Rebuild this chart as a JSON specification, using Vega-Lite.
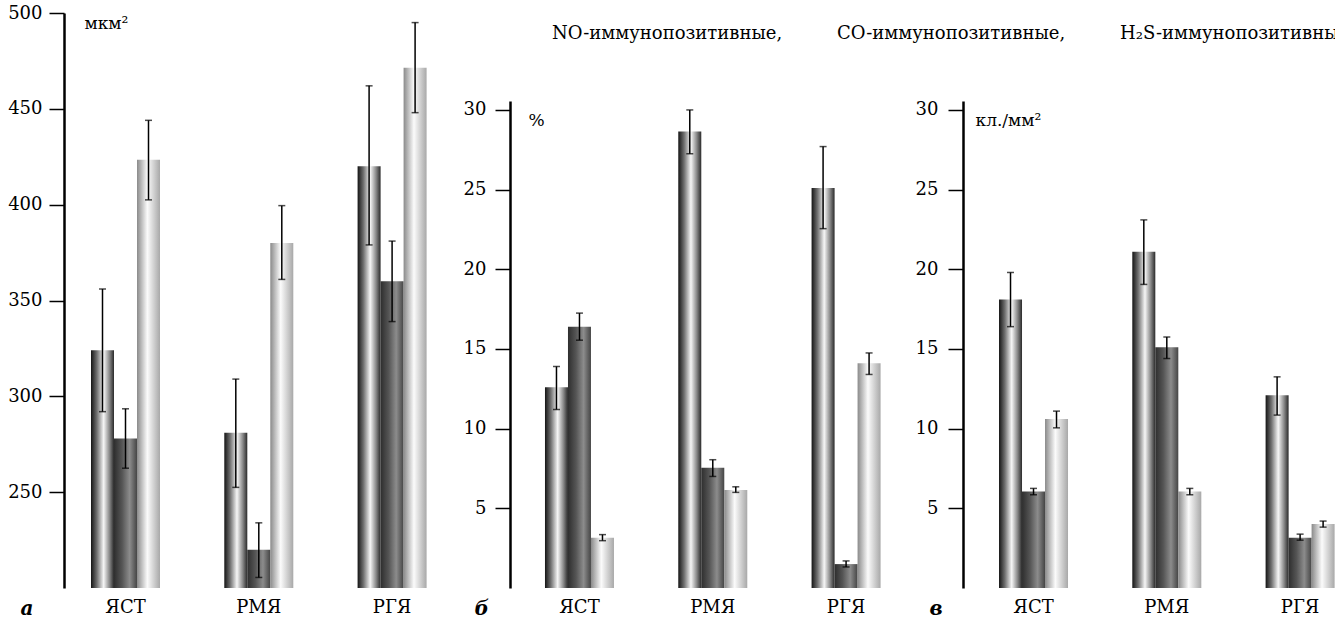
{
  "$schema": "https://vega.github.io/schema/vega-lite/v6.json",
  "padding": {"left": 7, "top": 4, "right": 0, "bottom": 0},
  "autosize": {"type": "pad"},
  "background": "white",
  "config": {
    "font": "DejaVu Serif",
    "view": {"stroke": null},
    "axis": {"labelFont": "DejaVu Serif", "labelFontSize": 18, "labelColor": "black", "titleFont": "DejaVu Serif", "titleColor": "black", "titleFontWeight": "normal", "grid": false},
    "legend": {"orient": "none", "legendX": 453, "legendY": 9, "direction": "horizontal", "symbolType": "square", "symbolSize": 560, "symbolStrokeWidth": 0, "symbolOpacity": 1, "labelFont": "DejaVu Serif", "labelFontSize": 18, "labelLimit": 400, "labelColor": "black", "labelOffset": 11, "columnPadding": 19, "padding": 0}
  },
  "datasets": {
    "a": [
      {"group": "ЯСТ", "series": "NO", "value": 324, "lo": 292, "hi": 356},
      {"group": "ЯСТ", "series": "CO", "value": 278, "lo": 262.5, "hi": 293.5},
      {"group": "ЯСТ", "series": "H2S", "value": 423.5, "lo": 402.5, "hi": 444},
      {"group": "РМЯ", "series": "NO", "value": 281, "lo": 252.5, "hi": 309},
      {"group": "РМЯ", "series": "CO", "value": 220, "lo": 205.5, "hi": 234},
      {"group": "РМЯ", "series": "H2S", "value": 380, "lo": 361, "hi": 399.5},
      {"group": "РГЯ", "series": "NO", "value": 420, "lo": 379, "hi": 462},
      {"group": "РГЯ", "series": "CO", "value": 360, "lo": 339, "hi": 381},
      {"group": "РГЯ", "series": "H2S", "value": 471.5, "lo": 448, "hi": 495}
    ],
    "b": [
      {"group": "ЯСТ", "series": "NO", "value": 12.6, "lo": 11.2, "hi": 13.9},
      {"group": "ЯСТ", "series": "CO", "value": 16.4, "lo": 15.55, "hi": 17.25},
      {"group": "ЯСТ", "series": "H2S", "value": 3.15, "lo": 2.97, "hi": 3.35},
      {"group": "РМЯ", "series": "NO", "value": 28.65, "lo": 27.25, "hi": 30.0},
      {"group": "РМЯ", "series": "CO", "value": 7.55, "lo": 7.0, "hi": 8.05},
      {"group": "РМЯ", "series": "H2S", "value": 6.15, "lo": 6.0, "hi": 6.35},
      {"group": "РГЯ", "series": "NO", "value": 25.1, "lo": 22.55, "hi": 27.7},
      {"group": "РГЯ", "series": "CO", "value": 1.5, "lo": 1.32, "hi": 1.7},
      {"group": "РГЯ", "series": "H2S", "value": 14.1, "lo": 13.4, "hi": 14.75}
    ],
    "c": [
      {"group": "ЯСТ", "series": "NO", "value": 18.1, "lo": 16.4, "hi": 19.8},
      {"group": "ЯСТ", "series": "CO", "value": 6.05, "lo": 5.85, "hi": 6.25},
      {"group": "ЯСТ", "series": "H2S", "value": 10.6, "lo": 10.05, "hi": 11.1},
      {"group": "РМЯ", "series": "NO", "value": 21.1, "lo": 19.05, "hi": 23.1},
      {"group": "РМЯ", "series": "CO", "value": 15.1, "lo": 14.4, "hi": 15.75},
      {"group": "РМЯ", "series": "H2S", "value": 6.05, "lo": 5.85, "hi": 6.25},
      {"group": "РГЯ", "series": "NO", "value": 12.1, "lo": 10.85, "hi": 13.25},
      {"group": "РГЯ", "series": "CO", "value": 3.15, "lo": 3.0, "hi": 3.38},
      {"group": "РГЯ", "series": "H2S", "value": 4.02, "lo": 3.82, "hi": 4.2}
    ]
  },
  "spacing": 50,
  "bounds": "flush",
  "resolve": {"scale": {"y": "independent", "x": "independent", "color": "shared"}, "legend": {"color": "shared"}},
  "hconcat": [
    {
      "width": 396, "height": 575,
      "data": {"name": "a"},
      "encoding": {
        "x": {"field": "group", "type": "nominal", "sort": ["ЯСТ", "РМЯ", "РГЯ"], "title": "а",
              "scale": {"paddingInner": 0.4824, "paddingOuter": 0.2266, "align": 0.447},
              "axis": {"domain": false, "ticks": false, "labelAngle": 0, "labelPadding": 10, "titleAnchor": "start", "titleAlign": "left", "titleX": -44, "titleY": 26, "titleBaseline": "alphabetic", "titleFontSize": 20, "titleFontStyle": "italic", "titleFontWeight": "bold"}},
        "xOffset": {"field": "series", "type": "nominal", "sort": ["NO", "CO", "H2S"], "scale": {"paddingInner": 0, "paddingOuter": 0}}
      },
      "layer": [
        {"mark": {"type": "bar", "clip": true},
         "encoding": {
           "y": {"field": "value", "type": "quantitative", "title": "мкм²",
                 "scale": {"domain": [200, 500], "zero": false, "nice": false},
                 "axis": {"values": [250, 300, 350, 400, 450, 500], "domainColor": "black", "domainWidth": 2.5, "tickColor": "black", "tickWidth": 1.5, "tickSize": 15, "labelPadding": 7, "titleAngle": 0, "titleAlign": "left", "titleBaseline": "alphabetic", "titleX": 20, "titleY": 15, "titleFontSize": 17}},
           "color": {"condition": [
               {"test": "datum.series == 'NO'", "value": {"gradient": "linear", "x1": 0, "y1": 0, "x2": 1, "y2": 0, "stops": [{"offset": 0, "color": "#141414"}, {"offset": 0.25, "color": "#6e6e6e"}, {"offset": 0.55, "color": "#f6f6f6"}, {"offset": 0.8, "color": "#8a8a8a"}, {"offset": 1, "color": "#2a2a2a"}]}},
               {"test": "datum.series == 'CO'", "value": {"gradient": "linear", "x1": 0, "y1": 0, "x2": 1, "y2": 0, "stops": [{"offset": 0, "color": "#2e2e2e"}, {"offset": 0.35, "color": "#555555"}, {"offset": 0.68, "color": "#8c8c8c"}, {"offset": 1, "color": "#454545"}]}}
             ],
             "value": {"gradient": "linear", "x1": 0, "y1": 0, "x2": 1, "y2": 0, "stops": [{"offset": 0, "color": "#8a8a8a"}, {"offset": 0.45, "color": "#fbfbfb"}, {"offset": 1, "color": "#a8a8a8"}]}}
         }},
        {"mark": {"type": "bar", "clip": true, "filled": false, "opacity": 0},
         "encoding": {
           "y": {"field": "value", "type": "quantitative", "title": "мкм²"},
           "color": {"field": "series", "type": "nominal", "sort": ["NO", "CO", "H2S"],
                     "scale": {"domain": ["NO", "CO", "H2S"], "range": ["#8a8a8a", "#555555", "#c8c8c8"]},
                     "legend": {"title": null, "symbolOpacity": 1,
                                "labelExpr": "datum.label == 'NO' ? 'NO-иммунопозитивные,' : datum.label == 'CO' ? 'CO-иммунопозитивные,' : 'H₂S-иммунопозитивные'",
                                "encode": {"symbols": {"update": {
                                  "opacity": {"value": 1},
                                  "fillOpacity": {"value": 1},
                                  "strokeWidth": {"value": 0},
                                  "fill": [
                                    {"test": "datum.value == 'NO'", "value": {"gradient": "linear", "x1": 0, "y1": 0, "x2": 1, "y2": 0, "stops": [{"offset": 0, "color": "#141414"}, {"offset": 0.25, "color": "#6e6e6e"}, {"offset": 0.55, "color": "#f6f6f6"}, {"offset": 0.8, "color": "#8a8a8a"}, {"offset": 1, "color": "#2a2a2a"}]}},
                                    {"test": "datum.value == 'CO'", "value": {"gradient": "linear", "x1": 0, "y1": 0, "x2": 1, "y2": 0, "stops": [{"offset": 0, "color": "#2e2e2e"}, {"offset": 0.35, "color": "#555555"}, {"offset": 0.68, "color": "#8c8c8c"}, {"offset": 1, "color": "#454545"}]}},
                                    {"value": {"gradient": "linear", "x1": 0, "y1": 0, "x2": 1, "y2": 0, "stops": [{"offset": 0, "color": "#8a8a8a"}, {"offset": 0.45, "color": "#fbfbfb"}, {"offset": 1, "color": "#a8a8a8"}]}}
                                  ]
                                }}}
                     }
           }
         }},
        {"mark": {"type": "rule", "color": "black", "strokeWidth": 1.5},
         "encoding": {"y": {"field": "lo", "type": "quantitative", "title": "мкм²"}, "y2": {"field": "hi"}}},
        {"mark": {"type": "tick", "color": "black", "size": 7, "thickness": 1.5},
         "encoding": {"y": {"field": "hi", "type": "quantitative", "title": "мкм²"}}},
        {"mark": {"type": "tick", "color": "black", "size": 7, "thickness": 1.5},
         "encoding": {"y": {"field": "lo", "type": "quantitative", "title": "мкм²"}}}
      ]
    },
    {
      "width": 403, "height": 575,
      "data": {"name": "b"},
      "encoding": {
        "x": {"field": "group", "type": "nominal", "sort": ["ЯСТ", "РМЯ", "РГЯ"], "title": "б",
              "scale": {"paddingInner": 0.4824, "paddingOuter": 0.2528, "align": 0.519},
              "axis": {"domain": false, "ticks": false, "labelAngle": 0, "labelPadding": 10, "titleAnchor": "start", "titleAlign": "left", "titleX": -36, "titleY": 26, "titleBaseline": "alphabetic", "titleFontSize": 20, "titleFontStyle": "italic", "titleFontWeight": "bold"}},
        "xOffset": {"field": "series", "type": "nominal", "sort": ["NO", "CO", "H2S"], "scale": {"paddingInner": 0, "paddingOuter": 0}}
      },
      "layer": [
        {"mark": {"type": "bar", "clip": true},
         "encoding": {
           "y": {"field": "value", "type": "quantitative", "title": "%",
                 "scale": {"domain": [0, 30.56], "range": [575, 88], "nice": false},
                 "axis": {"values": [5, 10, 15, 20, 25, 30], "domainColor": "black", "domainWidth": 2.5, "tickColor": "black", "tickWidth": 1.5, "tickSize": 15, "labelPadding": 9, "titleAngle": 0, "titleAlign": "left", "titleBaseline": "alphabetic", "titleX": 18, "titleY": 112, "titleFontSize": 17}},
           "color": {"condition": [
               {"test": "datum.series == 'NO'", "value": {"gradient": "linear", "x1": 0, "y1": 0, "x2": 1, "y2": 0, "stops": [{"offset": 0, "color": "#141414"}, {"offset": 0.25, "color": "#6e6e6e"}, {"offset": 0.55, "color": "#f6f6f6"}, {"offset": 0.8, "color": "#8a8a8a"}, {"offset": 1, "color": "#2a2a2a"}]}},
               {"test": "datum.series == 'CO'", "value": {"gradient": "linear", "x1": 0, "y1": 0, "x2": 1, "y2": 0, "stops": [{"offset": 0, "color": "#2e2e2e"}, {"offset": 0.35, "color": "#555555"}, {"offset": 0.68, "color": "#8c8c8c"}, {"offset": 1, "color": "#454545"}]}}
             ],
             "value": {"gradient": "linear", "x1": 0, "y1": 0, "x2": 1, "y2": 0, "stops": [{"offset": 0, "color": "#8a8a8a"}, {"offset": 0.45, "color": "#fbfbfb"}, {"offset": 1, "color": "#a8a8a8"}]}}
         }},
        {"mark": {"type": "rule", "color": "black", "strokeWidth": 1.5},
         "encoding": {"y": {"field": "lo", "type": "quantitative", "title": "%"}, "y2": {"field": "hi"}}},
        {"mark": {"type": "tick", "color": "black", "size": 7, "thickness": 1.5},
         "encoding": {"y": {"field": "hi", "type": "quantitative", "title": "%"}}},
        {"mark": {"type": "tick", "color": "black", "size": 7, "thickness": 1.5},
         "encoding": {"y": {"field": "lo", "type": "quantitative", "title": "%"}}}
      ]
    },
    {
      "width": 372, "height": 575,
      "data": {"name": "c"},
      "encoding": {
        "x": {"field": "group", "type": "nominal", "sort": ["ЯСТ", "РМЯ", "РГЯ"], "title": "в",
              "scale": {"paddingInner": 0.4824, "paddingOuter": 0.1366, "align": 0.989},
              "axis": {"domain": false, "ticks": false, "labelAngle": 0, "labelPadding": 10, "titleAnchor": "start", "titleAlign": "left", "titleX": -34, "titleY": 26, "titleBaseline": "alphabetic", "titleFontSize": 20, "titleFontStyle": "italic", "titleFontWeight": "bold"}},
        "xOffset": {"field": "series", "type": "nominal", "sort": ["NO", "CO", "H2S"], "scale": {"paddingInner": 0, "paddingOuter": 0}}
      },
      "layer": [
        {"mark": {"type": "bar", "clip": true},
         "encoding": {
           "y": {"field": "value", "type": "quantitative", "title": "кл./мм²",
                 "scale": {"domain": [0, 30.56], "range": [575, 88], "nice": false},
                 "axis": {"values": [5, 10, 15, 20, 25, 30], "domainColor": "black", "domainWidth": 2.5, "tickColor": "black", "tickWidth": 1.5, "tickSize": 15, "labelPadding": 10, "titleAngle": 0, "titleAlign": "left", "titleBaseline": "alphabetic", "titleX": 12, "titleY": 112, "titleFontSize": 17}},
           "color": {"condition": [
               {"test": "datum.series == 'NO'", "value": {"gradient": "linear", "x1": 0, "y1": 0, "x2": 1, "y2": 0, "stops": [{"offset": 0, "color": "#141414"}, {"offset": 0.25, "color": "#6e6e6e"}, {"offset": 0.55, "color": "#f6f6f6"}, {"offset": 0.8, "color": "#8a8a8a"}, {"offset": 1, "color": "#2a2a2a"}]}},
               {"test": "datum.series == 'CO'", "value": {"gradient": "linear", "x1": 0, "y1": 0, "x2": 1, "y2": 0, "stops": [{"offset": 0, "color": "#2e2e2e"}, {"offset": 0.35, "color": "#555555"}, {"offset": 0.68, "color": "#8c8c8c"}, {"offset": 1, "color": "#454545"}]}}
             ],
             "value": {"gradient": "linear", "x1": 0, "y1": 0, "x2": 1, "y2": 0, "stops": [{"offset": 0, "color": "#8a8a8a"}, {"offset": 0.45, "color": "#fbfbfb"}, {"offset": 1, "color": "#a8a8a8"}]}}
         }},
        {"mark": {"type": "rule", "color": "black", "strokeWidth": 1.5},
         "encoding": {"y": {"field": "lo", "type": "quantitative", "title": "кл./мм²"}, "y2": {"field": "hi"}}},
        {"mark": {"type": "tick", "color": "black", "size": 7, "thickness": 1.5},
         "encoding": {"y": {"field": "hi", "type": "quantitative", "title": "кл./мм²"}}},
        {"mark": {"type": "tick", "color": "black", "size": 7, "thickness": 1.5},
         "encoding": {"y": {"field": "lo", "type": "quantitative", "title": "кл./мм²"}}}
      ]
    }
  ]
}
